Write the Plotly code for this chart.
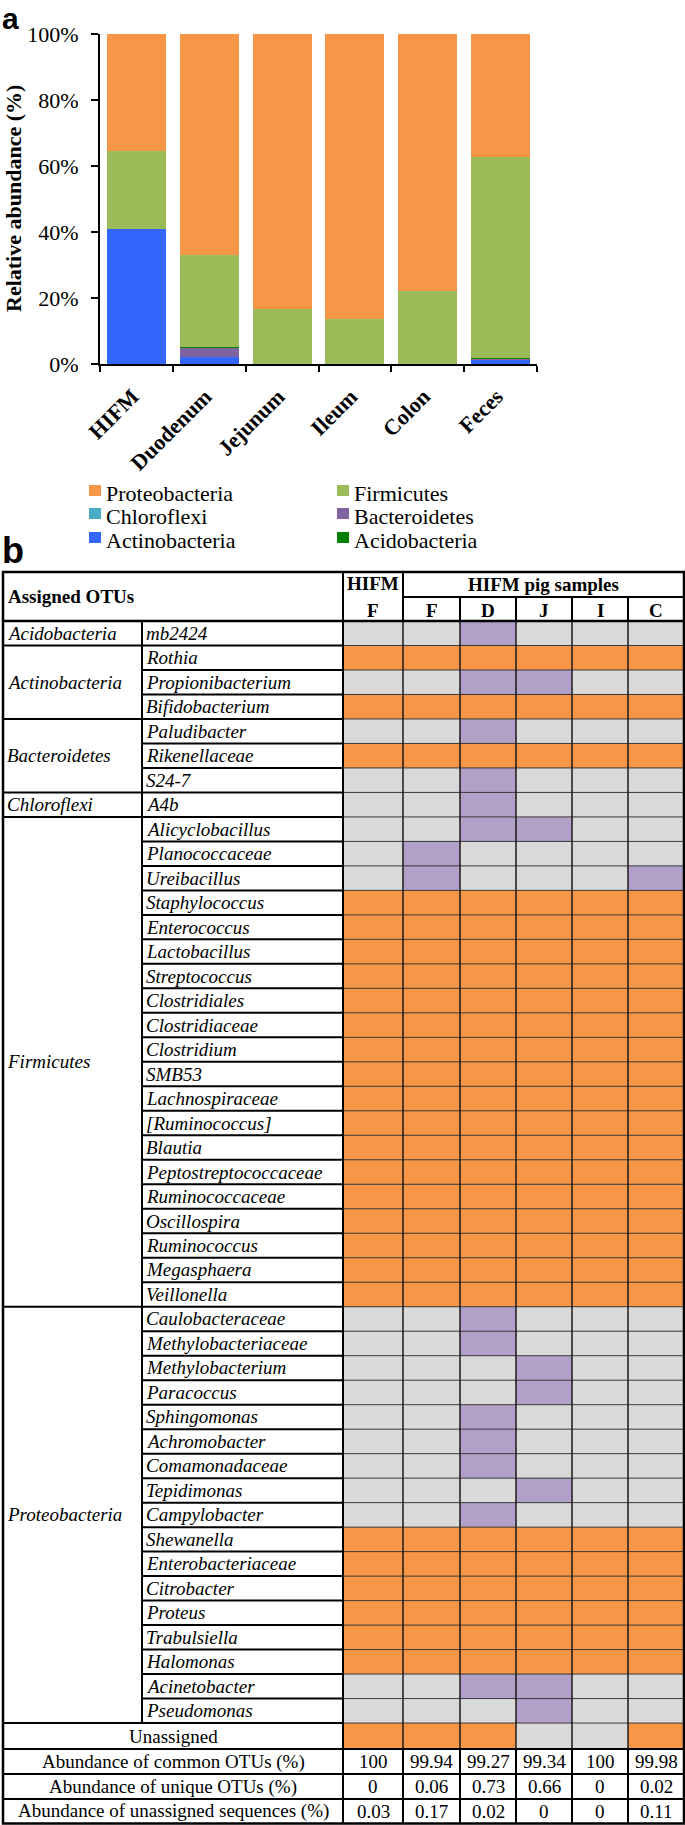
import plotly.graph_objects as go

W, H = 685, 1825

# ---------------- Panel a: data ----------------
sites = ["HIFM", "Duodenum", "Jejunum", "Ileum", "Colon", "Feces"]
chloroflexi    = [0.1, 0.0, 0.0, 0.0, 0.0, 0.0]
actinobacteria = [40.8, 2.0, 0.0, 0.0, 0.0, 1.5]
bacteroidetes  = [0.0, 3.0, 0.0, 0.0, 0.0, 0.1]
acidobacteria  = [0.0, 0.3, 0.0, 0.0, 0.0, 0.3]
firmicutes     = [23.5, 27.6, 16.6, 13.7, 22.0, 60.7]
proteobacteria = [35.6, 67.1, 83.4, 86.3, 78.0, 37.4]
y_ticks = [0, 20, 40, 60, 80, 100]
y_tick_labels = ["0%", "20%", "40%", "60%", "80%", "100%"]

stack_order = [
    ("Chloroflexi", chloroflexi),
    ("Actinobacteria", actinobacteria),
    ("Bacteroidetes", bacteroidetes),
    ("Acidobacteria", acidobacteria),
    ("Firmicutes", firmicutes),
    ("Proteobacteria", proteobacteria),
]
legend_order = ["Proteobacteria", "Firmicutes", "Chloroflexi",
                "Bacteroidetes", "Actinobacteria", "Acidobacteria"]

# ---------------- Panel b: data ----------------
phyla = ["Acidobacteria", "Actinobacteria", "Bacteroidetes", "Chloroflexi",
         "Firmicutes", "Proteobacteria"]
phylum_counts = [1, 3, 3, 1, 20, 17]
genera = [
    "mb2424",
    "Rothia", "Propionibacterium", "Bifidobacterium",
    "Paludibacter", "Rikenellaceae", "S24-7",
    "A4b",
    "Alicyclobacillus", "Planococcaceae", "Ureibacillus", "Staphylococcus",
    "Enterococcus", "Lactobacillus", "Streptococcus", "Clostridiales",
    "Clostridiaceae", "Clostridium", "SMB53", "Lachnospiraceae",
    "[Ruminococcus]", "Blautia", "Peptostreptococcaceae", "Ruminococcaceae",
    "Oscillospira", "Ruminococcus", "Megasphaera", "Veillonella",
    "Caulobacteraceae", "Methylobacteriaceae", "Methylobacterium", "Paracoccus",
    "Sphingomonas", "Achromobacter", "Comamonadaceae", "Tepidimonas",
    "Campylobacter", "Shewanella", "Enterobacteriaceae", "Citrobacter",
    "Proteus", "Trabulsiella", "Halomonas", "Acinetobacter", "Pseudomonas",
]
sample_cols = ["F", "F", "D", "J", "I", "C"]
# 0 = absent (grey), 1 = unique (purple), 2 = common (orange)
otu_status = [
    [0, 0, 1, 0, 0, 0],  # mb2424
    [2, 2, 2, 2, 2, 2],  # Rothia
    [0, 0, 1, 1, 0, 0],  # Propionibacterium
    [2, 2, 2, 2, 2, 2],  # Bifidobacterium
    [0, 0, 1, 0, 0, 0],  # Paludibacter
    [2, 2, 2, 2, 2, 2],  # Rikenellaceae
    [0, 0, 1, 0, 0, 0],  # S24-7
    [0, 0, 1, 0, 0, 0],  # A4b
    [0, 0, 1, 1, 0, 0],  # Alicyclobacillus
    [0, 1, 0, 0, 0, 0],  # Planococcaceae
    [0, 1, 0, 0, 0, 1],  # Ureibacillus
    [2, 2, 2, 2, 2, 2],  # Staphylococcus
    [2, 2, 2, 2, 2, 2],  # Enterococcus
    [2, 2, 2, 2, 2, 2],  # Lactobacillus
    [2, 2, 2, 2, 2, 2],  # Streptococcus
    [2, 2, 2, 2, 2, 2],  # Clostridiales
    [2, 2, 2, 2, 2, 2],  # Clostridiaceae
    [2, 2, 2, 2, 2, 2],  # Clostridium
    [2, 2, 2, 2, 2, 2],  # SMB53
    [2, 2, 2, 2, 2, 2],  # Lachnospiraceae
    [2, 2, 2, 2, 2, 2],  # [Ruminococcus]
    [2, 2, 2, 2, 2, 2],  # Blautia
    [2, 2, 2, 2, 2, 2],  # Peptostreptococcaceae
    [2, 2, 2, 2, 2, 2],  # Ruminococcaceae
    [2, 2, 2, 2, 2, 2],  # Oscillospira
    [2, 2, 2, 2, 2, 2],  # Ruminococcus
    [2, 2, 2, 2, 2, 2],  # Megasphaera
    [2, 2, 2, 2, 2, 2],  # Veillonella
    [0, 0, 1, 0, 0, 0],  # Caulobacteraceae
    [0, 0, 1, 0, 0, 0],  # Methylobacteriaceae
    [0, 0, 0, 1, 0, 0],  # Methylobacterium
    [0, 0, 0, 1, 0, 0],  # Paracoccus
    [0, 0, 1, 0, 0, 0],  # Sphingomonas
    [0, 0, 1, 0, 0, 0],  # Achromobacter
    [0, 0, 1, 0, 0, 0],  # Comamonadaceae
    [0, 0, 0, 1, 0, 0],  # Tepidimonas
    [0, 0, 1, 0, 0, 0],  # Campylobacter
    [2, 2, 2, 2, 2, 2],  # Shewanella
    [2, 2, 2, 2, 2, 2],  # Enterobacteriaceae
    [2, 2, 2, 2, 2, 2],  # Citrobacter
    [2, 2, 2, 2, 2, 2],  # Proteus
    [2, 2, 2, 2, 2, 2],  # Trabulsiella
    [2, 2, 2, 2, 2, 2],  # Halomonas
    [0, 0, 1, 1, 0, 0],  # Acinetobacter
    [0, 0, 0, 1, 0, 0],  # Pseudomonas
    [2, 2, 2, 0, 0, 2],  # Unassigned
]
summary_labels = ["Abundance of common OTUs (%)",
                  "Abundance of unique OTUs (%)",
                  "Abundance of unassigned sequences (%)"]
common_otus     = ["100", "99.94", "99.27", "99.34", "100", "99.98"]
unique_otus     = ["0", "0.06", "0.73", "0.66", "0", "0.02"]
unassigned_seqs = ["0.03", "0.17", "0.02", "0", "0", "0.11"]

# ---------------- styles ----------------
colors = {
    "Proteobacteria": "#F79646",
    "Firmicutes": "#9BBB59",
    "Chloroflexi": "#4BACC6",
    "Bacteroidetes": "#8064A2",
    "Actinobacteria": "#3366FF",
    "Acidobacteria": "#008000",
}
GREY, PURPLE, ORANGE = "#D9D9D9", "#B1A0C7", "#F79646"
SERIF = "Liberation Serif"
SANS = "Liberation Sans"

fig = go.Figure()

# ---------------- Panel a: stacked bars ----------------
for name, vals in stack_order:
    fig.add_trace(go.Bar(
        x=sites, y=vals, name=name, marker_color=colors[name],
        marker_line_width=0, showlegend=False, xaxis="x", yaxis="y",
        hoverinfo="skip"))

# ---------------- Panel b: table geometry (pixel units) ----------------
x_left, x_phy, x_gen = 3, 142, 343
data_edges = [343, 403, 460, 516, 572, 628, 684]
hdr_top, hdr_mid, hdr_bot = 572, 597, 621
n_otu = len(genera)          # 45
n_status = len(otu_status)   # 46 incl. Unassigned
row_heights = [24.49] * n_otu + [26.0] + [25.0, 25.0, 24.5]
row_edges = [hdr_bot]
for h in row_heights:
    row_edges.append(row_edges[-1] + h)

fig.add_trace(go.Heatmap(
    z=otu_status, x=data_edges, y=row_edges[:n_status + 1],
    xaxis="x2", yaxis="y2", zmin=0, zmax=2, showscale=False, hoverinfo="skip",
    colorscale=[[0, GREY], [1 / 3, GREY], [1 / 3, PURPLE], [2 / 3, PURPLE],
                [2 / 3, ORANGE], [1, ORANGE]]))

shapes = []
annots = []


def line(x0, y0, x1, y1, w=2, c="black"):
    shapes.append(dict(type="line", xref="x2", yref="y2", x0=x0, y0=y0,
                       x1=x1, y1=y1, line=dict(color=c, width=w)))


def text(x, y, s, size=19, anchor="left", style="normal", weight="normal",
         family=SERIF, yanchor="middle"):
    annots.append(dict(x=x, y=y, xref="x2", yref="y2", text=s, showarrow=False,
                       xanchor=anchor, yanchor=yanchor,
                       font=dict(family=family, size=size, color="black",
                                 style=style, weight=weight)))


# data-area grid (thin, dark) first
for yb in row_edges[1:n_status]:
    line(x_gen, yb, data_edges[-1], yb, w=1, c="#3a3a3a")
for xb in data_edges[1:-1]:
    line(xb, hdr_bot, xb, row_edges[n_status], w=1.5, c="#1a1a1a")
# summary rows grid
for yb in row_edges[n_status:-1]:
    line(x_left, yb, data_edges[-1], yb, w=2)
for xb in data_edges[1:-1]:
    line(xb, row_edges[n_status], xb, row_edges[-1], w=2)

# left columns grid
for i in range(1, n_otu + 1):
    line(x_phy, row_edges[i], x_gen, row_edges[i], w=2)
cum = 0
for cnt in phylum_counts:
    cum += cnt
    line(x_left, row_edges[cum], x_phy, row_edges[cum], w=2)
line(x_phy, hdr_bot, x_phy, row_edges[n_otu], w=2)
line(x_gen, hdr_top, x_gen, row_edges[-1], w=2)
# header
line(x_left, hdr_bot, data_edges[-1], hdr_bot, w=2.5)
line(data_edges[1], hdr_top, data_edges[1], hdr_bot, w=2)
line(data_edges[1], hdr_mid, data_edges[-1], hdr_mid, w=2)
for xb in data_edges[2:-1]:
    line(xb, hdr_mid, xb, hdr_bot, w=2)
# outer frame
shapes.append(dict(type="rect", xref="x2", yref="y2", x0=x_left, x1=data_edges[-1],
                   y0=hdr_top, y1=row_edges[-1], line=dict(color="black", width=2.5)))

# header texts
text(x_left + 3, (hdr_top + hdr_bot) / 2, "Assigned OTUs", weight="bold")
c0 = (data_edges[0] + data_edges[1]) / 2
text(c0, (hdr_top + hdr_mid) / 2 - 1, "HIFM", anchor="center", weight="bold")
text(c0, (hdr_mid + hdr_bot) / 2 + 1, sample_cols[0], anchor="center", weight="bold")
text((data_edges[1] + data_edges[-1]) / 2, (hdr_top + hdr_mid) / 2,
     "HIFM pig samples", anchor="center", weight="bold")
for j in range(1, len(sample_cols)):
    text((data_edges[j] + data_edges[j + 1]) / 2, (hdr_mid + hdr_bot) / 2 + 1,
         sample_cols[j], anchor="center", weight="bold")

# phylum and genus labels
start = 0
for ph, cnt in zip(phyla, phylum_counts):
    yc = (row_edges[start] + row_edges[start + cnt]) / 2
    text(x_left + 2, yc, ph, style="italic")
    start += cnt
for i, g in enumerate(genera):
    text(x_phy + 2, (row_edges[i] + row_edges[i + 1]) / 2, g, style="italic")
text((x_left + x_gen) / 2, (row_edges[n_otu] + row_edges[n_otu + 1]) / 2,
     "Unassigned", anchor="center")

# summary rows
for k, (lab, vals) in enumerate(zip(summary_labels,
                                    [common_otus, unique_otus, unassigned_seqs])):
    r = n_status + k
    yc = (row_edges[r] + row_edges[r + 1]) / 2
    text((x_left + x_gen) / 2, yc, lab, anchor="center")
    for j, v in enumerate(vals):
        text((data_edges[j] + data_edges[j + 1]) / 2, yc, v, anchor="center")

# ---------------- Panel a: legend (drawn manually) ----------------
leg_sq_x = [89, 337]
leg_row_y = [490.5, 513.5, 537.5]
for idx, name in enumerate(legend_order):
    cx = leg_sq_x[idx % 2]
    cy = leg_row_y[idx // 2]
    shapes.append(dict(type="rect", xref="x2", yref="y2", x0=cx, x1=cx + 12,
                       y0=cy - 5.5, y1=cy + 5.5, fillcolor=colors[name],
                       line=dict(width=0)))
    text(cx + 15, cy + 3, name, size=22)

# panel letters and y title
text(0, 0, "a", size=30, weight="bold", family=SANS, yanchor="top")
text(0, 550, "b", size=36, weight="bold", family=SANS)
annots.append(dict(x=13, y=199, xref="x2", yref="y2", text="Relative abundance (%)",
                   showarrow=False, textangle=-90, xanchor="center", yanchor="middle",
                   font=dict(family=SERIF, size=22, color="black", weight="bold")))

bar_x0, bar_x1, bar_top, bar_bot = 100, 537, 34, 364

fig.update_layout(
    width=W, height=H,
    margin=dict(l=0, r=0, t=0, b=0),
    paper_bgcolor="white", plot_bgcolor="rgba(0,0,0,0)",
    barmode="stack", bargap=0.19,
    showlegend=False,
    shapes=shapes, annotations=annots,
    xaxis=dict(domain=[bar_x0 / W, bar_x1 / W], anchor="y",
               showline=True, linecolor="black", linewidth=2,
               ticks="outside", tickson="boundaries", ticklen=6, tickwidth=2,
               tickcolor="black", tickangle=-45, showgrid=False,
               ticklabelstandoff=9, ticklabelshift=-4,
               tickfont=dict(family=SERIF, size=22, color="black", weight="bold"),
               automargin=False, fixedrange=True),
    yaxis=dict(domain=[1 - bar_bot / H, 1 - bar_top / H], anchor="x",
               range=[0, 100], tickmode="array", tickvals=y_ticks,
               ticktext=y_tick_labels,
               showline=True, linecolor="black", linewidth=2,
               ticks="outside", ticklen=7, tickwidth=2, tickcolor="black",
               showgrid=False, zeroline=False, ticklabelstandoff=8,
               tickfont=dict(family=SERIF, size=22, color="black"),
               automargin=False, fixedrange=True),
    xaxis2=dict(domain=[0, 1], range=[0, W], anchor="y2", visible=False,
                fixedrange=True),
    yaxis2=dict(domain=[0, 1], range=[H, 0], anchor="x2", visible=False,
                fixedrange=True),
)

fig.write_html("out.html", config={"displayModeBar": False},
               post_script="document.body.style.margin='0px';")
